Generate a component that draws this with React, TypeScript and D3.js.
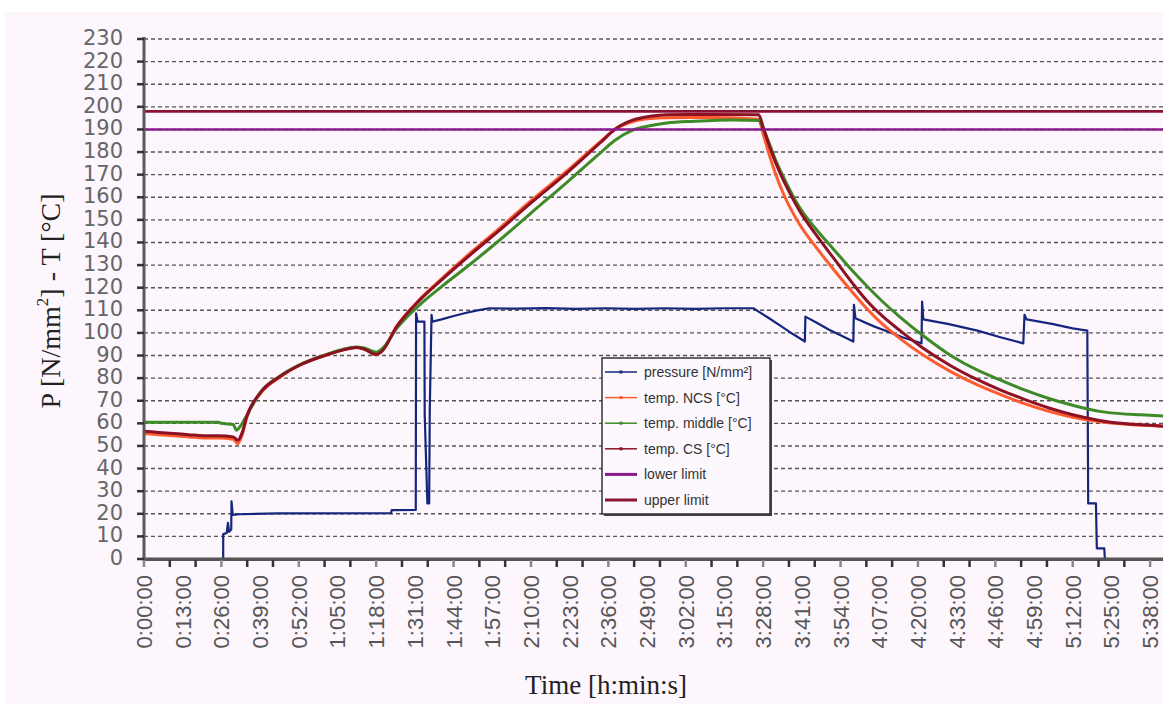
import React from "react";
import * as d3 from "d3";

// ---------- data (time in minutes, values in N/mm² or °C) ----------
const yTicks = d3.range(0, 231, 10);
const xLabelMinutes = d3.range(0, 339, 13);
const xTickMinutes = d3.range(0, 343, 26 / 3);

const lowerLimit = 190;
const upperLimit = 198;

const pressure: [number, number][] = [
  [0, 0], [26.6, 0], [26.6, 11], [27.8, 11.5], [28.2, 16], [28.6, 12], [29.3, 13], [29.4, 25.5], [29.8, 19.5],
  [32, 19.8], [45, 20.2], [83, 20.3], [83.2, 21.6], [91.3, 21.7], [91.4, 108.7], [91.9, 105], [94.2, 105],
  [94.3, 64], [95.2, 24.6], [95.8, 24.6], [96, 66], [96.6, 108], [96.9, 105], [100, 106], [104, 107.5],
  [108, 108.8], [112, 110], [116, 110.9], [125, 110.7], [135, 111], [145, 110.6], [155, 110.9], [165, 110.6],
  [175, 110.9], [185, 110.6], [195, 110.9], [204.7, 110.9], [207, 109], [210, 106.5], [214, 103], [218, 99.5],
  [222, 96.2], [222.2, 107.2], [226, 104.5], [230, 101.5], [234, 99], [238.3, 96.2], [238.5, 112.4],
  [239, 106.5], [245, 103], [250, 100.5], [255, 98], [261.2, 95.4], [261.4, 113.9], [261.8, 106], [270, 104],
  [280, 101], [288, 98], [295.4, 95.4], [295.8, 108], [296.5, 106], [305, 104], [312, 102], [316.9, 101],
  [317.2, 24.6], [319.8, 24.6], [320.1, 4.7], [322.6, 4.7], [322.8, 0],
];

const tempNCS: [number, number][] = [
  [0, 55.5], [5, 55], [10, 54.5], [15, 54], [20, 53.5], [25, 53.5], [30, 53], [31.5, 51], [33, 55], [34.5, 62.5],
  [39, 73], [45.7, 80.5], [52.4, 85.8], [61.4, 90.3], [67, 92.5], [71.4, 93.5], [74, 92.8], [78, 90.3], [80, 92],
  [84.9, 103], [92.7, 115], [100, 124], [110, 135.8], [119.6, 146.5], [130, 158.5], [142, 171.5], [153.2, 184.5],
  [158.8, 190.5], [164.4, 193.5], [170, 194.8], [175.6, 195.2], [190, 195.3], [206.5, 194.5], [208, 188],
  [210, 179], [212, 171], [215, 161], [220, 148.5], [226, 137.5], [232, 127.5], [238, 118], [243, 110.5],
  [248, 104], [254, 97.5], [262, 90], [271, 82.9], [280, 77], [288, 72.6], [296, 68.6], [304, 65.3], [312, 62.7],
  [321, 60.7], [330, 59.6], [338, 59], [343, 58.6],
];

const tempMiddle: [number, number][] = [
  [0, 60.5], [25, 60.5], [26, 60], [30, 59.5], [31, 57], [32.5, 59], [34.5, 63.5], [39, 73.6], [45.7, 81],
  [52.4, 86], [61.4, 90.5], [67, 92.8], [71.4, 93.8], [74, 93.3], [78, 91.5], [80, 93], [84.9, 102], [92.7, 112.5],
  [100, 120.5], [110, 130.8], [119.6, 141.2], [130, 153], [142, 166.5], [153.2, 179.5], [158, 185], [164.4, 189.8],
  [170, 191.6], [175.6, 192.8], [185, 193.6], [198, 194.2], [206.5, 194], [208, 190.5], [210, 184], [212, 177],
  [215, 168.5], [220, 156], [226, 145.5], [232, 136.5], [238, 127.5], [243, 120.5], [248, 114], [254, 107],
  [262, 98.5], [271, 90], [280, 83.5], [288, 79], [296, 74.7], [304, 71], [312, 68], [321, 65.3], [328, 64.3],
  [335, 63.8], [343, 63.2],
];

const tempCS: [number, number][] = [
  [0, 56.5], [5, 56], [10, 55.5], [15, 55], [20, 54.5], [25, 54.5], [30, 54], [31.5, 52.5], [33, 56], [34.5, 63],
  [39, 73.4], [45.7, 80.7], [52.4, 85.8], [61.4, 90.3], [67, 92.5], [71.4, 93.5], [74, 92.8], [78, 90.5], [80, 92],
  [84.9, 102.8], [92.7, 114.6], [100, 123.5], [110, 135], [119.6, 145.6], [130, 157.5], [142, 170.7],
  [153.2, 184], [158.8, 190.6], [164.4, 194.2], [170, 195.8], [175.6, 196.5], [190, 196.6], [206.5, 196.5],
  [208, 191], [210, 183], [212, 176], [215, 167], [220, 154.5], [226, 143], [232, 132.5], [238, 122], [243, 114],
  [248, 107.5], [254, 101], [262, 93], [271, 85.5], [280, 79.3], [288, 74.6], [296, 70.5], [304, 66.8],
  [312, 63.8], [321, 61.3], [330, 59.8], [338, 59.2], [343, 58.8],
];

const legendLabels = ["pressure [N/mm²]", "temp. NCS [°C]", "temp. middle [°C]", "temp. CS [°C]", "lower limit", "upper limit"];
const colors = ["#15267c", "#ff5b2e", "#3d8b27", "#8c1122", "#8a1a8c", "#8c1232"];

// ---------- layout ----------
const W = 1163;
const H = 704;
const x = d3.scaleLinear().domain([0, 343]).range([144, 1165]);
const y = d3.scaleLinear().domain([0, 230]).range([559, 39]);
const straight = d3.line<[number, number]>().x((d) => x(d[0])).y((d) => y(d[1]));
const smooth = d3
  .line<[number, number]>()
  .x((d) => x(d[0]))
  .y((d) => y(d[1]))
  .curve(d3.curveMonotoneX);

function fmt(m: number) {
  const h = Math.floor(m / 60);
  const mm = m % 60;
  return `${h}:${String(mm).padStart(2, "0")}:00`;
}

export default function App() {
  const series = [
    { d: straight(pressure), c: colors[0], w: 2.2 },
    { d: smooth(tempNCS), c: colors[1], w: 3 },
    { d: smooth(tempMiddle), c: colors[2], w: 3 },
    { d: smooth(tempCS), c: colors[3], w: 3 },
  ];
  const lx = 602, ly = 358, lw = 168, lh = 156;
  return (
    <svg width={W} height={H} style={{ position: "absolute", left: 0, top: 0 }}>
      <rect x={0} y={0} width={W} height={H} fill="#ffffff" />
      <rect x={5} y={12} width={W - 5} height={H - 12} fill="#fdf6fd" />
      {/* gridlines */}
      {yTicks.filter((v) => v > 0).map((v) => (
        <line key={v} x1={x(0)} x2={W} y1={y(v)} y2={y(v)} stroke="#555" strokeWidth={1.4} strokeDasharray="4,3" />
      ))}
      {/* series */}
      {series.map((s, i) => (
        <path key={i} d={s.d || ""} fill="none" stroke={s.c} strokeWidth={s.w} strokeLinejoin="round" />
      ))}
      <line x1={x(0)} x2={W} y1={y(lowerLimit)} y2={y(lowerLimit)} stroke={colors[4]} strokeWidth={2.6} />
      <line x1={x(0)} x2={W} y1={y(upperLimit)} y2={y(upperLimit)} stroke={colors[5]} strokeWidth={2.6} />
      {/* axes */}
      <line x1={x(0)} x2={W} y1={y(0) + 0.3} y2={y(0) + 0.3} stroke="#555" strokeWidth={3.6} />
      <line x1={x(0)} x2={x(0)} y1={37} y2={561} stroke="#5a5a5a" strokeWidth={3} />
      {yTicks.map((v) => (
        <g key={v}>
          <line x1={137} x2={144} y1={y(v)} y2={y(v)} stroke="#333" strokeWidth={2.5} />
          <text x={123} y={y(v) + 6} textAnchor="end" fontFamily="DejaVu Sans" fontSize={21} fill="#666">
            {v}
          </text>
        </g>
      ))}
      {xTickMinutes.map((m, i) => (
        <line key={i} x1={x(m)} x2={x(m)} y1={560} y2={567} stroke={i % 3 === 0 ? "#888" : "#333"} strokeWidth={2.5} />
      ))}
      {xLabelMinutes.map((m) => (
        <text
          key={m}
          transform={`translate(${x(m) + 8},575) rotate(-90)`}
          textAnchor="end"
          fontFamily="Liberation Sans"
          fontSize={22}
          fill="#555"
        >
          {fmt(m)}
        </text>
      ))}
      {/* axis titles */}
      <text x={606} y={694} textAnchor="middle" fontFamily="Liberation Serif" fontSize={27} fill="#222">
        Time [h:min:s]
      </text>
      <text
        transform="translate(60,301) rotate(-90)"
        textAnchor="middle"
        fontFamily="Liberation Serif"
        fontSize={28}
        fill="#222"
      >
        P [N/mm<tspan dy={-12} fontSize={17}>2</tspan>
        <tspan dy={12}>] - T [°C]</tspan>
      </text>
      {/* legend */}
      <rect x={lx + 2} y={ly + 2} width={lw} height={lh} fill="#444" />
      <rect x={lx} y={ly} width={lw} height={lh} fill="#fdf8fd" stroke="#333" strokeWidth={1.5} />
      {legendLabels.map((t, i) => {
        const cy = ly + 14 + i * 25.6;
        return (
          <g key={t}>
            <line x1={605} x2={637} y1={cy} y2={cy} stroke={colors[i]} strokeWidth={i >= 4 ? 3 : 1.5} />
            {i < 4 && <rect x={619.5} y={cy - 1.5} width={3} height={3} fill={colors[i]} />}
            <text x={644} y={cy + 5} fontFamily="Liberation Sans" fontSize={14} fill="#333">
              {t}
            </text>
          </g>
        );
      })}
    </svg>
  );
}
